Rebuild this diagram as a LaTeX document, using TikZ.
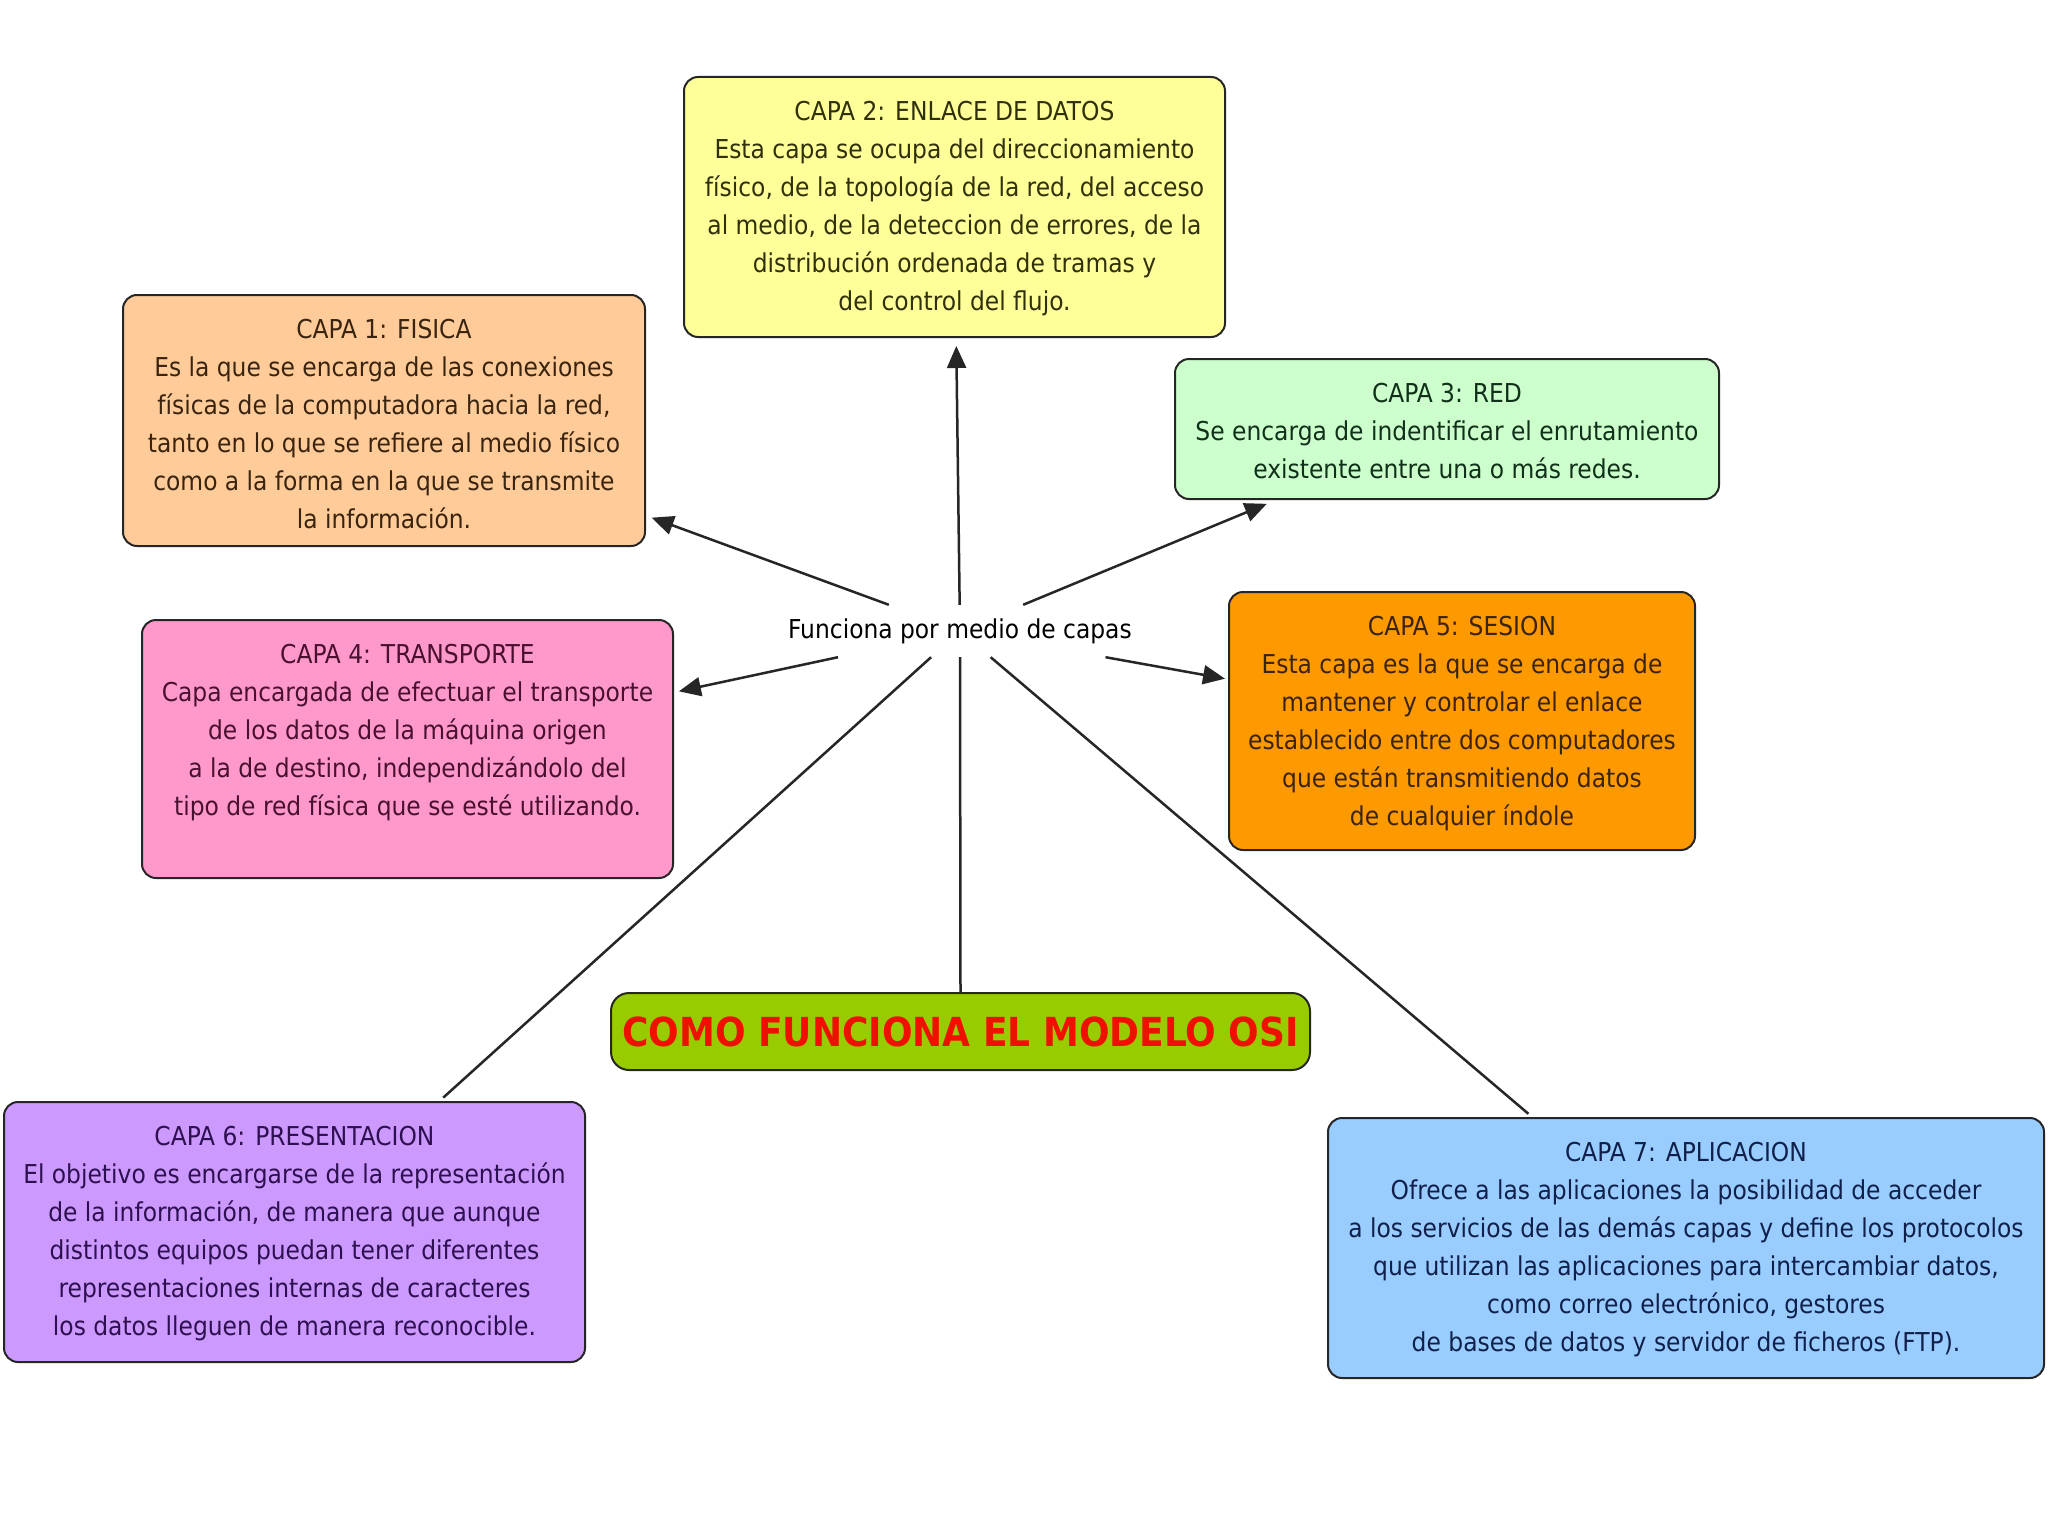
\documentclass[tikz,border=0pt]{standalone}
\usepackage{fontspec}
\setmainfont{DejaVu Sans Condensed}
\usetikzlibrary{arrows.meta}
\definecolor{cyellow}{HTML}{FFFF99}
\definecolor{cpeach}{HTML}{FFCC99}
\definecolor{cgreen}{HTML}{CCFFCC}
\definecolor{cpink}{HTML}{FF99CC}
\definecolor{corange}{HTML}{FF9900}
\definecolor{ctitle}{HTML}{99CC00}
\definecolor{cviolet}{HTML}{CC99FF}
\definecolor{cblue}{HTML}{99CCFF}
\definecolor{tbrown}{HTML}{3A2410}
\definecolor{tmaroon}{HTML}{4A1030}
\definecolor{tpurple}{HTML}{2E1050}
\definecolor{tnavy}{HTML}{10204A}
\definecolor{tgreen}{HTML}{10301A}
\definecolor{tolive}{HTML}{30300A}
\definecolor{ttitle}{HTML}{F01000}
\begin{document}
\begin{tikzpicture}[x=1pt,y=-1pt,
  box/.style={draw=black!85, line width=2pt, rounded corners=14pt, inner sep=0pt},
  txt/.style={align=center, inner sep=0pt, anchor=north, font=\fontsize{26}{38}\selectfont},
  link/.style={draw=black!85, line width=2.5pt},
  arr/.style={link, -{Triangle[length=22pt,width=19pt]}}]
\useasboundingbox (0,0) rectangle (2048,1536);
\fill[white] (0,0) rectangle (2048,1536);

% boxes
\node[box, fill=cyellow, minimum width=541pt, minimum height=260pt] (b2) at (954.5,207) {};
\node[box, fill=cpeach, minimum width=522pt, minimum height=251pt] (b1) at (384,420.5) {};
\node[box, fill=cgreen, minimum width=544pt, minimum height=140pt] (b3) at (1447,429) {};
\node[box, fill=cpink, minimum width=531pt, minimum height=258pt] (b4) at (407.5,749) {};
\node[box, fill=corange, minimum width=466pt, minimum height=258pt] (b5) at (1462,721) {};
\node[box, fill=ctitle, minimum width=699pt, minimum height=77pt, rounded corners=18pt] (bt) at (960.5,1031.5) {};
\node[box, fill=cviolet, minimum width=581pt, minimum height=260pt] (b6) at (294.5,1232) {};
\node[box, fill=cblue, minimum width=716pt, minimum height=260pt] (b7) at (1686,1248) {};

% texts
\node[txt, text=tolive] (t2) at ([yshift=-25pt]b2.north) {CAPA 2: ENLACE DE DATOS\\Esta capa se ocupa del direccionamiento\\físico, de la topología de la red, del acceso\\al medio, de la deteccion de errores, de la\\distribución ordenada de tramas y\\del control del flujo.};
\node[txt, text=tbrown] (t1) at ([yshift=-25pt]b1.north) {CAPA 1: FISICA\\Es la que se encarga de las conexiones\\físicas de la computadora hacia la red,\\tanto en lo que se refiere al medio físico\\como a la forma en la que se transmite\\la información.};
\node[txt, text=tgreen] (t3) at ([yshift=-25pt]b3.north) {CAPA 3: RED\\Se encarga de indentificar el enrutamiento\\existente entre una o más redes.};
\node[txt, text=tmaroon] (t4) at ([yshift=-25pt]b4.north) {CAPA 4: TRANSPORTE\\Capa encargada de efectuar el transporte\\de los datos de la máquina origen\\a la de destino, independizándolo del\\tipo de red física que se esté utilizando.};
\node[txt, text=tbrown] (t5) at ([yshift=-25pt]b5.north) {CAPA 5: SESION\\Esta capa es la que se encarga de\\mantener y controlar el enlace\\establecido entre dos computadores\\que están transmitiendo datos\\de cualquier índole};
\node[txt, text=tpurple] (t6) at ([yshift=-25pt]b6.north) {CAPA 6: PRESENTACION\\El objetivo es encargarse de la representación\\de la información, de manera que aunque\\distintos equipos puedan tener diferentes\\representaciones internas de caracteres\\los datos lleguen de manera reconocible.};
\node[txt, text=tnavy] (t7) at ([yshift=-25pt]b7.north) {CAPA 7: APLICACION\\Ofrece a las aplicaciones la posibilidad de acceder\\a los servicios de las demás capas y define los protocolos\\que utilizan las aplicaciones para intercambiar datos,\\como correo electrónico, gestores\\de bases de datos y servidor de ficheros (FTP).};
\node[inner sep=0pt, text=ttitle, font=\fontsize{40}{44}\bfseries\selectfont] (tt) at (bt.center) {COMO FUNCIONA EL MODELO OSI};

% central label
\node[inner sep=0pt, minimum width=360pt, minimum height=52pt, font=\fontsize{26}{38}\selectfont] (lab) at (960,631) {Funciona por medio de capas};

% connectors
\draw[link] (bt.north) -- (lab.south);
\draw[arr, shorten >=8pt] (lab) -- (b2);
\draw[arr, shorten >=6pt] (lab) -- (b1);
\draw[arr, shorten >=10pt] (lab) -- (b3);
\draw[arr, shorten >=5pt] (lab) -- (b4);
\draw[arr, shorten >=3pt] (lab) -- (b5);
\draw[link, shorten >=5pt] (lab) -- (b6);
\draw[link, shorten >=5pt] (lab) -- (b7);
\end{tikzpicture}
\end{document}
